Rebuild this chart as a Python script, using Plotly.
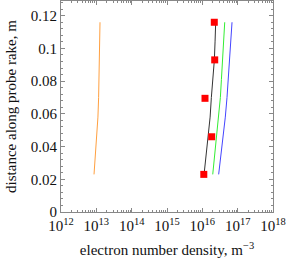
import plotly.graph_objects as go

# distance along probe rake (m)
dist = [0.023, 0.035, 0.047, 0.058, 0.070, 0.081, 0.093, 0.104, 0.116]

# electron number density curves (m^-3)
ne_orange = [8.6e12, 9.5e12, 1.05e13, 1.11e13, 1.16e13, 1.19e13, 1.22e13, 1.25e13, 1.27e13]
ne_black = [1.12e16, 1.29e16, 1.51e16, 1.66e16, 1.80e16, 2.0e16, 2.19e16, 2.29e16, 2.39e16]
ne_green = [1.97e16, 2.24e16, 2.54e16, 2.88e16, 3.24e16, 3.47e16, 3.68e16, 3.98e16, 4.30e16]
ne_blue = [2.90e16, 3.39e16, 3.93e16, 4.47e16, 4.99e16, 5.37e16, 5.81e16, 6.31e16, 6.92e16]

# measured points
meas_dist = [0.116, 0.093, 0.0695, 0.046, 0.023]
meas_ne = [2.18e16, 2.24e16, 1.19e16, 1.84e16, 1.10e16]

x_tickvals = [1e12, 1e13, 1e14, 1e15, 1e16, 1e17, 1e18]
x_ticktext = ["10<sup>12</sup>", "10<sup>13</sup>", "10<sup>14</sup>", "10<sup>15</sup>",
              "10<sup>16</sup>", "10<sup>17</sup>", "10<sup>18</sup>"]
x_minor = [m * 10 ** e for e in range(12, 18) for m in range(2, 10)]

fig = go.Figure()
for xs, col in [(ne_orange, "#ffa040"), (ne_black, "#333333"),
                (ne_green, "#33ee33"), (ne_blue, "#4444ff")]:
    fig.add_trace(go.Scatter(x=xs, y=dist, mode="lines",
                             line=dict(color=col, width=1), showlegend=False))
fig.add_trace(go.Scatter(x=meas_ne, y=meas_dist, mode="markers",
                         marker=dict(symbol="square", color="#ff0000", size=7),
                         showlegend=False))

font = dict(family="Liberation Serif, serif", size=15, color="#111")
axcol = "#888888"
fig.update_layout(
    width=291, height=262,
    margin=dict(l=61, r=18, t=1, b=50),
    paper_bgcolor="white", plot_bgcolor="white",
    font=font,
    xaxis=dict(type="log", range=[12, 18], tickvals=x_tickvals, ticktext=x_ticktext,
               automargin=False,
               showgrid=False, zeroline=False, showline=True, linecolor=axcol,
               linewidth=1, mirror="allticks", ticks="inside", ticklen=4,
               tickcolor=axcol,
               minor=dict(tickvals=x_minor, ticks="inside", ticklen=2, tickcolor=axcol),
               title=dict(text="electron number density, m<sup>−3</sup>", standoff=11,
                          font=font),
               tickfont=font),
    yaxis=dict(range=[0, 0.129], dtick=0.02, tick0=0, automargin=False,
               showgrid=False, zeroline=False, showline=True, linecolor=axcol,
               linewidth=1, mirror="allticks", ticks="inside", ticklen=4,
               tickcolor=axcol,
               minor=dict(dtick=0.004, ticks="inside", ticklen=2, tickcolor=axcol),
               title=dict(text="distance along probe rake, m", standoff=10, font=font),
               tickfont=font),
)
fig.write_html("out.html", config={"displayModeBar": False},
               post_script="document.body.style.margin='0';")
